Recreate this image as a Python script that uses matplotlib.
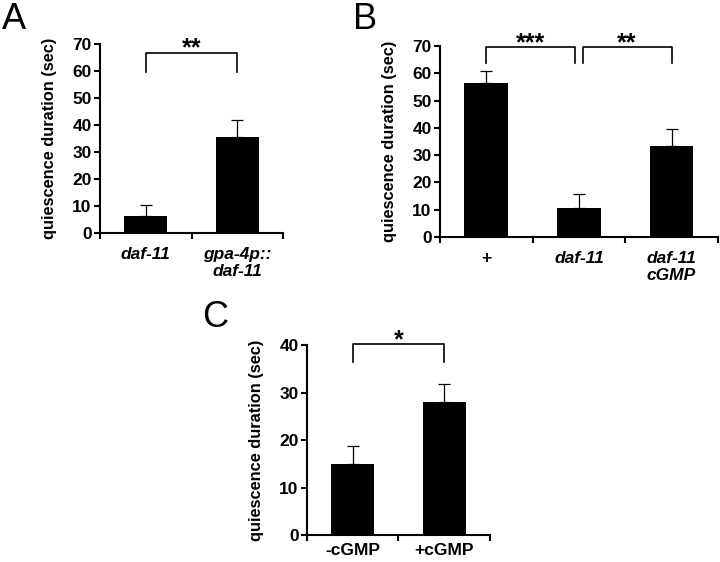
import matplotlib
matplotlib.use('Agg')
import matplotlib.pyplot as plt

plt.rcParams['font.family'] = ['Liberation Sans', 'DejaVu Sans']

# panel A
labels_a = ['daf-11', 'gpa-4p::\ndaf-11']
means_a = [6.2, 35.5]
errs_a = [4.1, 6.2]

# panel B
labels_b = ['+', 'daf-11', 'daf-11\ncGMP']
means_b = [56.5, 10.5, 33.5]
errs_b = [4.2, 5.2, 6.0]

# panel C
labels_c = ['-cGMP', '+cGMP']
means_c = [15.0, 28.0]
errs_c = [3.8, 3.8]

ylabel = 'quiescence duration (sec)'


def panel(ax, labels, means, errs, ymax, italic, pad):
    n = len(means)
    x = list(range(n))
    ax.bar(x, means, width=0.47, color='black', zorder=2)
    ax.errorbar(x, means, yerr=[[0] * n, errs], fmt='none', ecolor='black',
                elinewidth=0.9, capsize=4, capthick=0.9, zorder=1)
    ax.set_xlim(-0.5, n - 0.5)
    ax.set_ylim(0, ymax)
    ax.set_yticks(range(0, ymax + 1, 10))
    ax.set_xticks(x)
    ax.set_xticklabels(labels, fontweight='bold', fontsize=12.5,
                       style='italic' if italic else 'normal', linespacing=1.2)
    ax.set_xticks([i - 0.5 for i in range(n + 1)], minor=True)
    ax.tick_params(axis='x', which='major', length=0, pad=pad)
    ax.tick_params(axis='x', which='minor', length=4, width=1.5, direction='out')
    ax.tick_params(axis='y', length=4, width=1.5, labelsize=12.5, pad=2)
    for t in ax.get_yticklabels():
        t.set_fontweight('bold')
    for s in ['top', 'right']:
        ax.spines[s].set_visible(False)
    ax.spines['left'].set_linewidth(1.5)
    ax.spines['bottom'].set_linewidth(1.5)
    ax.set_ylabel(ylabel, fontsize=11.8, fontweight='bold', labelpad=11)


def bracket(ax, x0, x1, ytop, ybot, text):
    ax.plot([x0, x0, x1, x1], [ybot, ytop, ytop, ybot], color='black',
            lw=1.2, clip_on=False)
    ax.annotate(text, xy=((x0 + x1) / 2, ytop), xytext=(0, -2),
                textcoords='offset points', ha='center', va='baseline',
                fontsize=18, fontweight='bold', annotation_clip=False)


fig = plt.figure(figsize=(7.2, 5.62), dpi=100)

ax_a = fig.add_axes([0.139, 0.5854, 0.254, 0.3363])
panel(ax_a, labels_a, means_a, errs_a, 70, True, 10)
bracket(ax_a, 0, 1, 66.7, 59.6, '**')

ax_b = fig.add_axes([0.611, 0.5783, 0.386, 0.3399])
panel(ax_b, labels_b, means_b, errs_b, 70, True, 10)
ax_b.get_xticklabels()[0].set_style('normal')
bracket(ax_b, 0, 0.96, 69.6, 63.8, '***')
bracket(ax_b, 1.04, 2, 69.6, 63.8, '**')

ax_c = fig.add_axes([0.4264, 0.048, 0.254, 0.338])
panel(ax_c, labels_c, means_c, errs_c, 40, False, 6)
bracket(ax_c, 0, 1, 40.2, 36.4, '*')

fig.text(0.002, 0.997, 'A', fontsize=26, va='top', ha='left')
fig.text(0.490, 0.997, 'B', fontsize=26, va='top', ha='left')
fig.text(0.281, 0.467, 'C', fontsize=26, va='top', ha='left')

fig.savefig('out.png', dpi=100)
